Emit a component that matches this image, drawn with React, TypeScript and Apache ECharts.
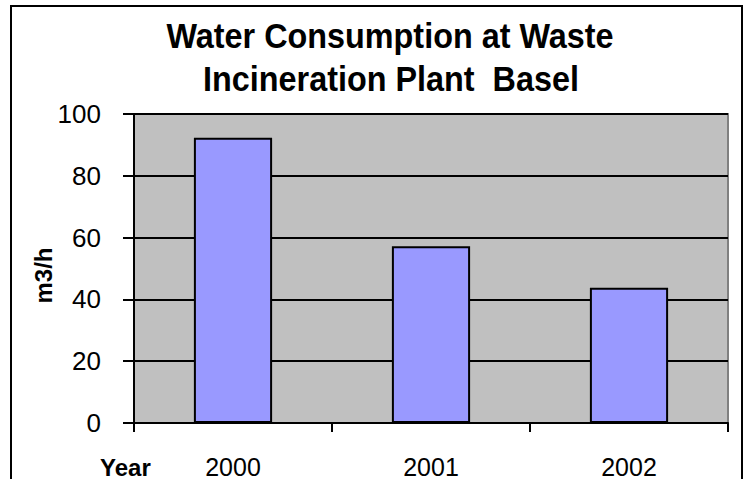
import React, { useEffect, useRef } from "react";
import * as echarts from "echarts";

const categories = ["2000", "2001", "2002"];
const values = [92.3, 57.2, 43.8];
const yTicks = [0, 20, 40, 60, 80, 100];
const titleLines = ["Water Consumption at Waste", "Incineration Plant  Basel"];
const yName = "m3/h";
const xName = "Year";

const FONT = "'Liberation Sans', Arial, sans-serif";

export default function App() {
  const ref = useRef<HTMLDivElement>(null);
  useEffect(() => {
    document.body.style.margin = "0";
    const chart = echarts.init(ref.current!, null, { renderer: "svg" });
    chart.setOption({
      animation: false,
      backgroundColor: "#ffffff",
      grid: {
        left: 134,
        right: 17,
        top: 114,
        bottom: 56,
        show: true,
        backgroundColor: "#C0C0C0",
        borderColor: "#808080",
        borderWidth: 2,
      },
      xAxis: {
        type: "category",
        data: categories,
        boundaryGap: true,
        axisLine: { lineStyle: { color: "#000", width: 2 } },
        axisTick: { show: true, interval: 0, length: 9, alignWithLabel: false, lineStyle: { color: "#000", width: 2 } },
        axisLabel: { fontFamily: FONT, fontSize: 25, color: "#000", margin: 31 },
        splitLine: { show: false },
      },
      yAxis: {
        type: "value",
        min: yTicks[0],
        max: yTicks[yTicks.length - 1],
        interval: 20,
        axisLine: { show: true, lineStyle: { color: "#000", width: 2 } },
        axisTick: { show: true, length: 11, lineStyle: { color: "#000", width: 2 } },
        axisLabel: { fontFamily: FONT, fontSize: 26, color: "#000", margin: 33 },
        splitLine: { show: true, lineStyle: { color: "#000", width: 2 } },
      },
      series: [
        {
          type: "bar",
          data: values,
          barWidth: "39.5%",
          itemStyle: { color: "#9999FF", borderColor: "#000", borderWidth: 2 },
        },
      ],
      graphic: [
        {
          type: "rect",
          shape: { x: 11, y: 6, width: 731, height: 520 },
          style: { fill: "none", stroke: "#000", lineWidth: 2 },
          silent: true,
          z: 100,
        },
        {
          type: "text",
          x: 390,
          y: 36,
          scaleX: 0.925,
          style: { text: titleLines[0], font: "bold 35px " + FONT, fill: "#000", align: "center", verticalAlign: "middle" },
        },
        {
          type: "text",
          x: 391,
          y: 78.5,
          scaleX: 0.925,
          style: { text: titleLines[1], font: "bold 35px " + FONT, fill: "#000", align: "center", verticalAlign: "middle" },
        },
        {
          type: "text",
          x: 43,
          y: 275.5,
          rotation: Math.PI / 2,
          style: { text: yName, font: "bold 24px " + FONT, fill: "#000", align: "center", verticalAlign: "middle" },
        },
        {
          type: "text",
          x: 100,
          y: 467,
          style: { text: xName, font: "bold 24px " + FONT, fill: "#000", align: "left", verticalAlign: "middle" },
        },
      ],
    });
    return () => chart.dispose();
  }, []);
  return <div ref={ref} style={{ width: 745, height: 479 }} />;
}
